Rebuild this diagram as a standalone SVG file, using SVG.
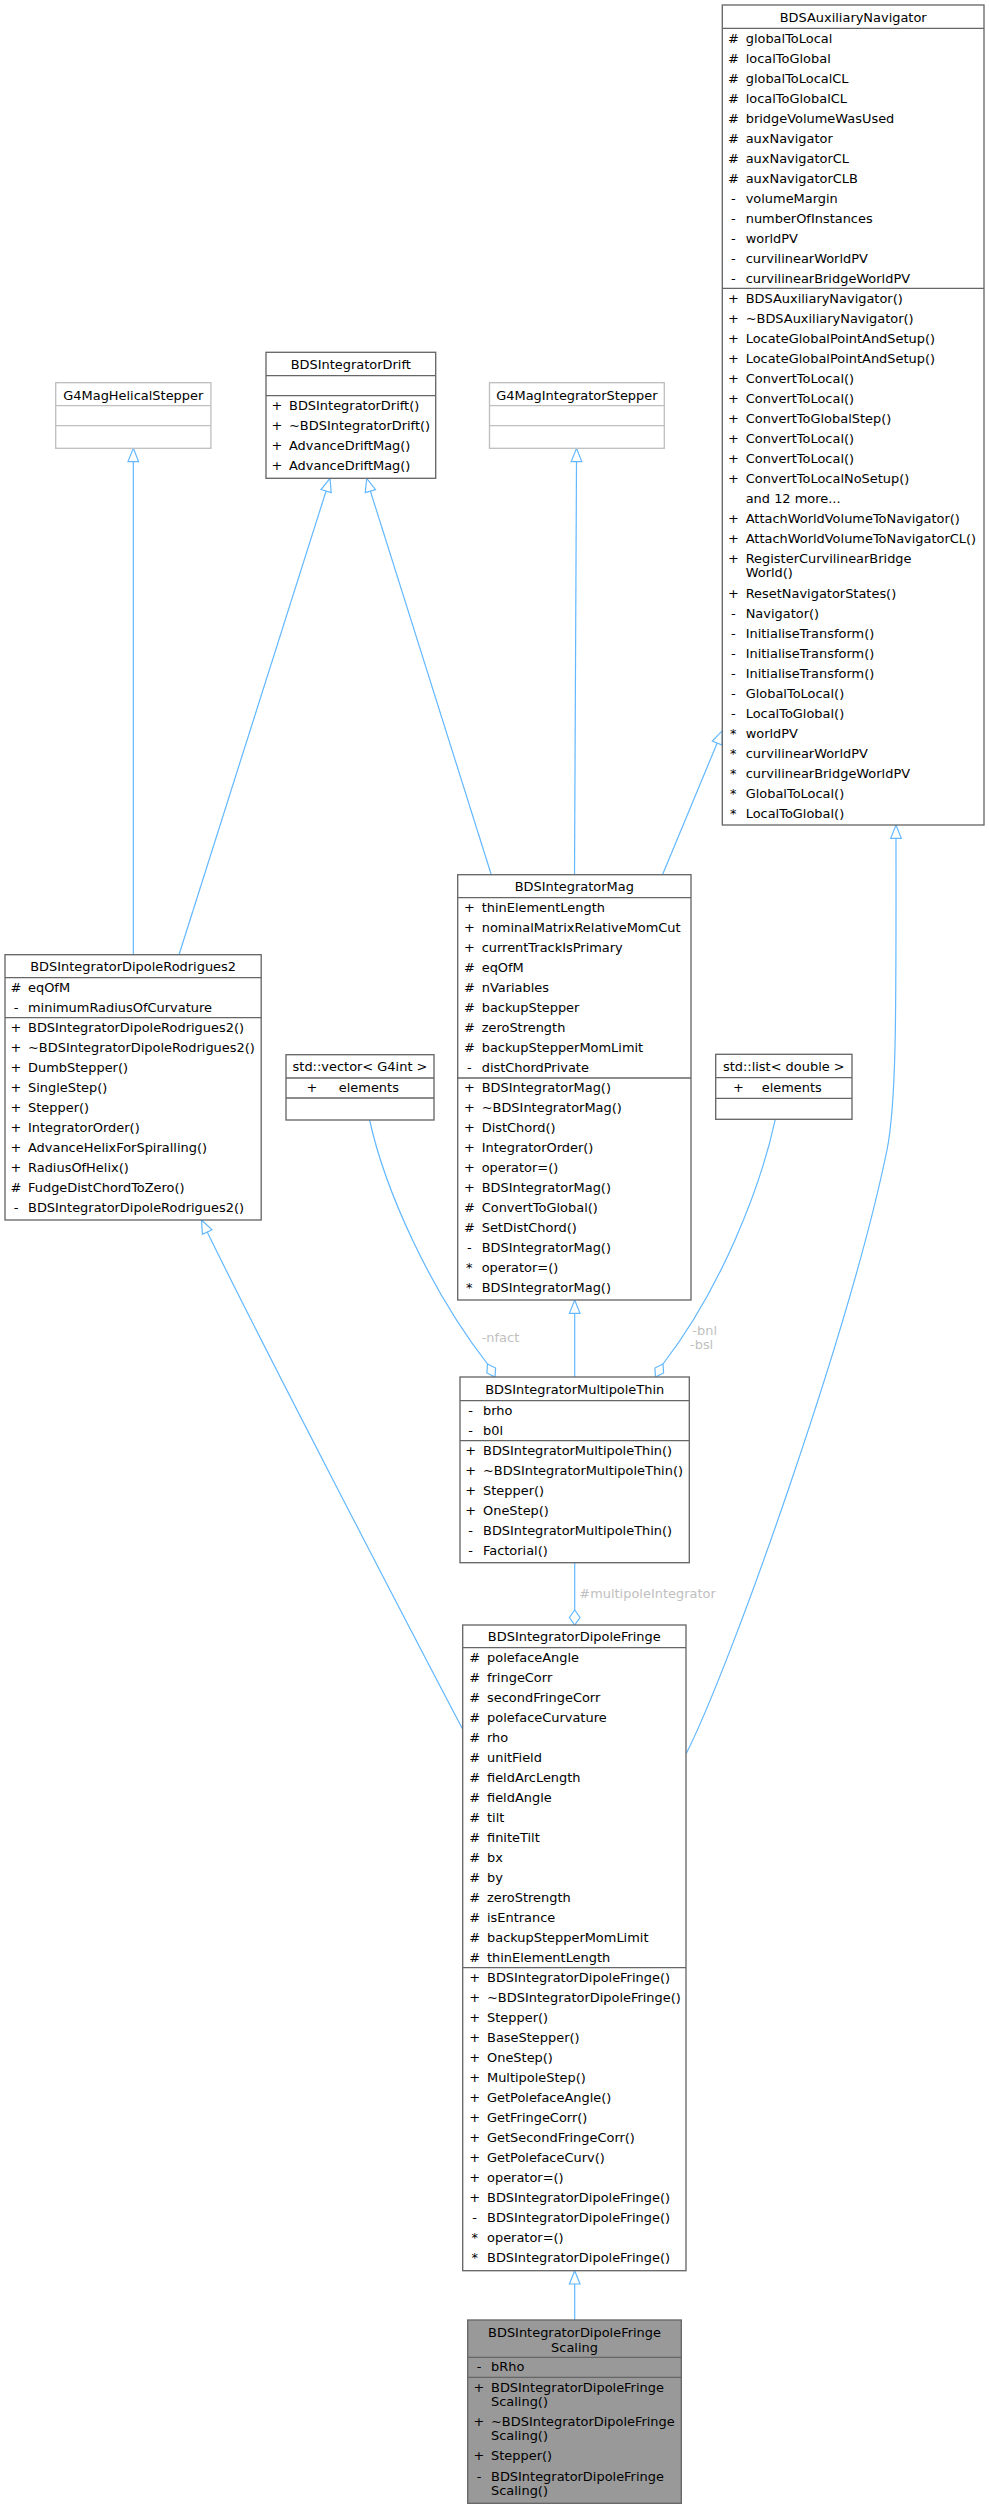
<svg xmlns="http://www.w3.org/2000/svg" width="989" height="2509" viewBox="0 0 989 2509">
<style>
text{font-family:"DejaVu Sans","Liberation Sans",sans-serif;font-size:12.95px;fill:#000}
.c{text-anchor:middle}
.box{fill:#fff;stroke:#666;stroke-width:1.33}
.ext{fill:#fff;stroke:#bfbfbf;stroke-width:1.33}
.cur{fill:#999;stroke:#666;stroke-width:1.33}
.sep{stroke:#666;stroke-width:1.33}
.sepx{stroke:#bfbfbf;stroke-width:1.33}
.e{fill:none;stroke:#63b8ff;stroke-width:1.2}
.ah{fill:#fff;stroke:#63b8ff;stroke-width:1.2}
.lbl{fill:#c0c0c0}
</style>
<rect width="989" height="2509" fill="#fff"/>

<g id="edges">
<path class="e" d="M133.3,954.7 L133.3,461.6"/><polygon class="ah" points="133.3,448.3 138.6,461.6 128,461.6"/>
<path class="e" d="M179,954.7 L326.1,491"/><polygon class="ah" points="330,478.3 331.2,492.6 321,489.5"/>
<path class="e" d="M491.3,874.7 L370.4,491.1"/><polygon class="ah" points="366.7,478.3 375.5,489.6 365.3,492.6"/>
<path class="e" d="M574.5,874.7 L576.5,461.6"/><polygon class="ah" points="576.5,448.3 581.8,461.6 571.2,461.6"/>
<path class="e" d="M662.5,874.7 L717.2,743"/><polygon class="ah" points="722.3,730.7 722.1,745 712.3,741"/>
<path class="e" d="M686,1754 C730,1668 850,1330 887,1150 C897,1100 896,1000 896,838.3"/><polygon class="ah" points="896,825 901.3,838.3 890.7,838.3"/>
<path class="e" d="M462.7,1729.3 C400,1610 260,1340 207.2,1232.1"/><polygon class="ah" points="201.5,1220 212,1229.9 202.4,1234.4"/>
<path class="e" d="M574.7,1377 L574.7,1313.3"/><polygon class="ah" points="574.7,1300 580,1313.3 569.4,1313.3"/>
<path class="e" d="M574.7,2320 L574.7,2284"/><polygon class="ah" points="574.7,2270.7 580,2284 569.4,2284"/>
<path class="e" d="M369.6,1120 C385,1190 430,1290 487.5,1364"/><polygon class="ah" points="487.5,1364 495.6,1368 495,1377 486.9,1373"/>
<path class="e" d="M775.3,1119.3 C760,1190 720,1290 663,1364"/><polygon class="ah" points="663,1364 663.6,1373 655.5,1377 654.9,1368"/>
<path class="e" d="M574.7,1562.7 L574.7,1610"/><polygon class="ah" points="574.7,1610 580,1617.5 574.7,1625 569.4,1617.5"/>
<text class="lbl" x="481.7" y="1342">-nfact</text>
<text class="lbl" x="692.3" y="1334.8">-bnl</text>
<text class="lbl" x="690" y="1349">-bsl</text>
<text class="lbl" x="579.3" y="1597.5">#multipoleIntegrator</text>
</g>

<g id="BDSAuxiliaryNavigator">
<rect class="box" x="722.3" y="5" width="261.7" height="820"/>
<line class="sep" x1="722.3" y1="28.3" x2="984" y2="28.3"/>
<line class="sep" x1="722.3" y1="288.3" x2="984" y2="288.3"/>
<text class="c" x="853.2" y="22">BDSAuxiliaryNavigator</text>
<g class="c">
<text x="733.3" y="42.5">#</text><text x="733.3" y="62.5">#</text><text x="733.3" y="82.5">#</text><text x="733.3" y="102.5">#</text><text x="733.3" y="122.5">#</text><text x="733.3" y="142.5">#</text><text x="733.3" y="162.5">#</text><text x="733.3" y="182.5">#</text>
<text x="733.3" y="202.5">-</text><text x="733.3" y="222.5">-</text><text x="733.3" y="242.5">-</text><text x="733.3" y="262.5">-</text><text x="733.3" y="282.5">-</text>
<text x="733.3" y="302.5">+</text><text x="733.3" y="322.5">+</text><text x="733.3" y="342.5">+</text><text x="733.3" y="362.5">+</text><text x="733.3" y="382.5">+</text><text x="733.3" y="402.5">+</text><text x="733.3" y="422.5">+</text><text x="733.3" y="442.5">+</text><text x="733.3" y="462.5">+</text><text x="733.3" y="482.5">+</text>
<text x="733.3" y="522.5">+</text><text x="733.3" y="542.5">+</text><text x="733.3" y="562.5">+</text><text x="733.3" y="597.5">+</text>
<text x="733.3" y="617.5">-</text><text x="733.3" y="637.5">-</text><text x="733.3" y="657.5">-</text><text x="733.3" y="677.5">-</text><text x="733.3" y="697.5">-</text><text x="733.3" y="717.5">-</text>
<text x="733.3" y="737.5">*</text><text x="733.3" y="757.5">*</text><text x="733.3" y="777.5">*</text><text x="733.3" y="797.5">*</text><text x="733.3" y="817.5">*</text>
</g>
<text x="745.7" y="42.5">globalToLocal</text>
<text x="745.7" y="62.5">localToGlobal</text>
<text x="745.7" y="82.5">globalToLocalCL</text>
<text x="745.7" y="102.5">localToGlobalCL</text>
<text x="745.7" y="122.5">bridgeVolumeWasUsed</text>
<text x="745.7" y="142.5">auxNavigator</text>
<text x="745.7" y="162.5">auxNavigatorCL</text>
<text x="745.7" y="182.5">auxNavigatorCLB</text>
<text x="745.7" y="202.5">volumeMargin</text>
<text x="745.7" y="222.5">numberOfInstances</text>
<text x="745.7" y="242.5">worldPV</text>
<text x="745.7" y="262.5">curvilinearWorldPV</text>
<text x="745.7" y="282.5">curvilinearBridgeWorldPV</text>
<text x="745.7" y="302.5">BDSAuxiliaryNavigator()</text>
<text x="745.7" y="322.5">~BDSAuxiliaryNavigator()</text>
<text x="745.7" y="342.5">LocateGlobalPointAndSetup()</text>
<text x="745.7" y="362.5">LocateGlobalPointAndSetup()</text>
<text x="745.7" y="382.5">ConvertToLocal()</text>
<text x="745.7" y="402.5">ConvertToLocal()</text>
<text x="745.7" y="422.5">ConvertToGlobalStep()</text>
<text x="745.7" y="442.5">ConvertToLocal()</text>
<text x="745.7" y="462.5">ConvertToLocal()</text>
<text x="745.7" y="482.5">ConvertToLocalNoSetup()</text>
<text x="745.7" y="502.5">and 12 more...</text>
<text x="745.7" y="522.5">AttachWorldVolumeToNavigator()</text>
<text x="745.7" y="542.5">AttachWorldVolumeToNavigatorCL()</text>
<text x="745.7" y="562.5">RegisterCurvilinearBridge</text>
<text x="745.7" y="577.2">World()</text>
<text x="745.7" y="597.5">ResetNavigatorStates()</text>
<text x="745.7" y="617.5">Navigator()</text>
<text x="745.7" y="637.5">InitialiseTransform()</text>
<text x="745.7" y="657.5">InitialiseTransform()</text>
<text x="745.7" y="677.5">InitialiseTransform()</text>
<text x="745.7" y="697.5">GlobalToLocal()</text>
<text x="745.7" y="717.5">LocalToGlobal()</text>
<text x="745.7" y="737.5">worldPV</text>
<text x="745.7" y="757.5">curvilinearWorldPV</text>
<text x="745.7" y="777.5">curvilinearBridgeWorldPV</text>
<text x="745.7" y="797.5">GlobalToLocal()</text>
<text x="745.7" y="817.5">LocalToGlobal()</text>
</g>

<g id="BDSIntegratorDrift">
<rect class="box" x="266" y="352.3" width="169.7" height="126"/>
<line class="sep" x1="266" y1="375.7" x2="435.7" y2="375.7"/>
<line class="sep" x1="266" y1="395.7" x2="435.7" y2="395.7"/>
<text class="c" x="350.8" y="368.8">BDSIntegratorDrift</text>
<g class="c"><text x="277" y="409.9">+</text><text x="277" y="429.9">+</text><text x="277" y="449.9">+</text><text x="277" y="469.9">+</text></g>
<text x="289" y="409.9">BDSIntegratorDrift()</text>
<text x="289" y="429.9">~BDSIntegratorDrift()</text>
<text x="289" y="449.9">AdvanceDriftMag()</text>
<text x="289" y="469.9">AdvanceDriftMag()</text>
</g>

<g id="G4MagHelicalStepper">
<rect class="ext" x="55.7" y="382.7" width="155.2" height="65.6"/>
<line class="sepx" x1="55.7" y1="405.7" x2="210.9" y2="405.7"/>
<line class="sepx" x1="55.7" y1="425.7" x2="210.9" y2="425.7"/>
<text class="c" x="133.3" y="399.6">G4MagHelicalStepper</text>
</g>

<g id="G4MagIntegratorStepper">
<rect class="ext" x="489.5" y="382.7" width="174.8" height="65.6"/>
<line class="sepx" x1="489.5" y1="405.7" x2="664.3" y2="405.7"/>
<line class="sepx" x1="489.5" y1="425.7" x2="664.3" y2="425.7"/>
<text class="c" x="576.9" y="399.6">G4MagIntegratorStepper</text>
</g>

<g id="BDSIntegratorDipoleRodrigues2">
<rect class="box" x="5" y="954.7" width="256.2" height="265.3"/>
<line class="sep" x1="5" y1="977.7" x2="261.2" y2="977.7"/>
<line class="sep" x1="5" y1="1017.7" x2="261.2" y2="1017.7"/>
<text class="c" x="133.1" y="971.3">BDSIntegratorDipoleRodrigues2</text>
<g class="c">
<text x="16" y="991.9">#</text><text x="16" y="1011.9">-</text>
<text x="16" y="1031.9">+</text><text x="16" y="1051.9">+</text><text x="16" y="1071.9">+</text><text x="16" y="1091.9">+</text><text x="16" y="1111.9">+</text><text x="16" y="1131.9">+</text><text x="16" y="1151.9">+</text><text x="16" y="1171.9">+</text><text x="16" y="1191.9">#</text><text x="16" y="1211.9">-</text>
</g>
<text x="28" y="991.9">eqOfM</text>
<text x="28" y="1011.9">minimumRadiusOfCurvature</text>
<text x="28" y="1031.9">BDSIntegratorDipoleRodrigues2()</text>
<text x="28" y="1051.9">~BDSIntegratorDipoleRodrigues2()</text>
<text x="28" y="1071.9">DumbStepper()</text>
<text x="28" y="1091.9">SingleStep()</text>
<text x="28" y="1111.9">Stepper()</text>
<text x="28" y="1131.9">IntegratorOrder()</text>
<text x="28" y="1151.9">AdvanceHelixForSpiralling()</text>
<text x="28" y="1171.9">RadiusOfHelix()</text>
<text x="28" y="1191.9">FudgeDistChordToZero()</text>
<text x="28" y="1211.9">BDSIntegratorDipoleRodrigues2()</text>
</g>

<g id="BDSIntegratorMag">
<rect class="box" x="457.7" y="874.7" width="233.3" height="425.3"/>
<line class="sep" x1="457.7" y1="897.7" x2="691" y2="897.7"/>
<line class="sep" x1="457.7" y1="1078" x2="691" y2="1078"/>
<text class="c" x="574.3" y="891.3">BDSIntegratorMag</text>
<g class="c">
<text x="469.3" y="911.9">+</text><text x="469.3" y="931.9">+</text><text x="469.3" y="951.9">+</text><text x="469.3" y="971.9">#</text><text x="469.3" y="991.9">#</text><text x="469.3" y="1011.9">#</text><text x="469.3" y="1031.9">#</text><text x="469.3" y="1051.9">#</text><text x="469.3" y="1071.9">-</text>
<text x="469.3" y="1092.2">+</text><text x="469.3" y="1112.2">+</text><text x="469.3" y="1132.2">+</text><text x="469.3" y="1152.2">+</text><text x="469.3" y="1172.2">+</text><text x="469.3" y="1192.2">+</text><text x="469.3" y="1212.2">#</text><text x="469.3" y="1232.2">#</text><text x="469.3" y="1252.2">-</text><text x="469.3" y="1272.2">*</text><text x="469.3" y="1292.2">*</text>
</g>
<text x="481.7" y="911.9">thinElementLength</text>
<text x="481.7" y="931.9">nominalMatrixRelativeMomCut</text>
<text x="481.7" y="951.9">currentTrackIsPrimary</text>
<text x="481.7" y="971.9">eqOfM</text>
<text x="481.7" y="991.9">nVariables</text>
<text x="481.7" y="1011.9">backupStepper</text>
<text x="481.7" y="1031.9">zeroStrength</text>
<text x="481.7" y="1051.9">backupStepperMomLimit</text>
<text x="481.7" y="1071.9">distChordPrivate</text>
<text x="481.7" y="1092.2">BDSIntegratorMag()</text>
<text x="481.7" y="1112.2">~BDSIntegratorMag()</text>
<text x="481.7" y="1132.2">DistChord()</text>
<text x="481.7" y="1152.2">IntegratorOrder()</text>
<text x="481.7" y="1172.2">operator=()</text>
<text x="481.7" y="1192.2">BDSIntegratorMag()</text>
<text x="481.7" y="1212.2">ConvertToGlobal()</text>
<text x="481.7" y="1232.2">SetDistChord()</text>
<text x="481.7" y="1252.2">BDSIntegratorMag()</text>
<text x="481.7" y="1272.2">operator=()</text>
<text x="481.7" y="1292.2">BDSIntegratorMag()</text>
</g>

<g id="std_vector_G4int">
<rect class="box" x="286" y="1054.7" width="148" height="65.3"/>
<line class="sep" x1="286" y1="1078" x2="434" y2="1078"/>
<line class="sep" x1="286" y1="1098" x2="434" y2="1098"/>
<text class="c" x="360" y="1071.3">std::vector&lt; G4int &gt;</text>
<text class="c" x="311.8" y="1092.2">+</text>
<text x="338.8" y="1092.2">elements</text>
</g>

<g id="std_list_double">
<rect class="box" x="715.7" y="1054.3" width="136.3" height="65"/>
<line class="sep" x1="715.7" y1="1077.7" x2="852" y2="1077.7"/>
<line class="sep" x1="715.7" y1="1098.3" x2="852" y2="1098.3"/>
<text class="c" x="783.8" y="1071">std::list&lt; double &gt;</text>
<text class="c" x="738.3" y="1092">+</text>
<text x="761.7" y="1092">elements</text>
</g>

<g id="BDSIntegratorMultipoleThin">
<rect class="box" x="460" y="1377" width="229.3" height="185.7"/>
<line class="sep" x1="460" y1="1400.7" x2="689.3" y2="1400.7"/>
<line class="sep" x1="460" y1="1440.7" x2="689.3" y2="1440.7"/>
<text class="c" x="574.7" y="1393.9">BDSIntegratorMultipoleThin</text>
<g class="c">
<text x="470.7" y="1414.9">-</text><text x="470.7" y="1434.9">-</text>
<text x="470.7" y="1454.9">+</text><text x="470.7" y="1474.9">+</text><text x="470.7" y="1494.9">+</text><text x="470.7" y="1514.9">+</text><text x="470.7" y="1534.9">-</text><text x="470.7" y="1554.9">-</text>
</g>
<text x="483" y="1414.9">brho</text>
<text x="483" y="1434.9">b0l</text>
<text x="483" y="1454.9">BDSIntegratorMultipoleThin()</text>
<text x="483" y="1474.9">~BDSIntegratorMultipoleThin()</text>
<text x="483" y="1494.9">Stepper()</text>
<text x="483" y="1514.9">OneStep()</text>
<text x="483" y="1534.9">BDSIntegratorMultipoleThin()</text>
<text x="483" y="1554.9">Factorial()</text>
</g>

<g id="BDSIntegratorDipoleFringe">
<rect class="box" x="462.7" y="1625" width="223.3" height="645.7"/>
<line class="sep" x1="462.7" y1="1647.7" x2="686" y2="1647.7"/>
<line class="sep" x1="462.7" y1="1967.7" x2="686" y2="1967.7"/>
<text class="c" x="574.3" y="1641.3">BDSIntegratorDipoleFringe</text>
<g class="c">
<text x="474.7" y="1661.9">#</text><text x="474.7" y="1681.9">#</text><text x="474.7" y="1701.9">#</text><text x="474.7" y="1721.9">#</text><text x="474.7" y="1741.9">#</text><text x="474.7" y="1761.9">#</text><text x="474.7" y="1781.9">#</text><text x="474.7" y="1801.9">#</text><text x="474.7" y="1821.9">#</text><text x="474.7" y="1841.9">#</text><text x="474.7" y="1861.9">#</text><text x="474.7" y="1881.9">#</text><text x="474.7" y="1901.9">#</text><text x="474.7" y="1921.9">#</text><text x="474.7" y="1941.9">#</text><text x="474.7" y="1961.9">#</text>
<text x="474.7" y="1981.9">+</text><text x="474.7" y="2001.9">+</text><text x="474.7" y="2021.9">+</text><text x="474.7" y="2041.9">+</text><text x="474.7" y="2061.9">+</text><text x="474.7" y="2081.9">+</text><text x="474.7" y="2101.9">+</text><text x="474.7" y="2121.9">+</text><text x="474.7" y="2141.9">+</text><text x="474.7" y="2161.9">+</text><text x="474.7" y="2181.9">+</text><text x="474.7" y="2201.9">+</text><text x="474.7" y="2221.9">-</text><text x="474.7" y="2241.9">*</text><text x="474.7" y="2261.9">*</text>
</g>
<text x="487" y="1661.9">polefaceAngle</text>
<text x="487" y="1681.9">fringeCorr</text>
<text x="487" y="1701.9">secondFringeCorr</text>
<text x="487" y="1721.9">polefaceCurvature</text>
<text x="487" y="1741.9">rho</text>
<text x="487" y="1761.9">unitField</text>
<text x="487" y="1781.9">fieldArcLength</text>
<text x="487" y="1801.9">fieldAngle</text>
<text x="487" y="1821.9">tilt</text>
<text x="487" y="1841.9">finiteTilt</text>
<text x="487" y="1861.9">bx</text>
<text x="487" y="1881.9">by</text>
<text x="487" y="1901.9">zeroStrength</text>
<text x="487" y="1921.9">isEntrance</text>
<text x="487" y="1941.9">backupStepperMomLimit</text>
<text x="487" y="1961.9">thinElementLength</text>
<text x="487" y="1981.9">BDSIntegratorDipoleFringe()</text>
<text x="487" y="2001.9">~BDSIntegratorDipoleFringe()</text>
<text x="487" y="2021.9">Stepper()</text>
<text x="487" y="2041.9">BaseStepper()</text>
<text x="487" y="2061.9">OneStep()</text>
<text x="487" y="2081.9">MultipoleStep()</text>
<text x="487" y="2101.9">GetPolefaceAngle()</text>
<text x="487" y="2121.9">GetFringeCorr()</text>
<text x="487" y="2141.9">GetSecondFringeCorr()</text>
<text x="487" y="2161.9">GetPolefaceCurv()</text>
<text x="487" y="2181.9">operator=()</text>
<text x="487" y="2201.9">BDSIntegratorDipoleFringe()</text>
<text x="487" y="2221.9">BDSIntegratorDipoleFringe()</text>
<text x="487" y="2241.9">operator=()</text>
<text x="487" y="2261.9">BDSIntegratorDipoleFringe()</text>
</g>

<g id="BDSIntegratorDipoleFringeScaling">
<rect class="cur" x="467.7" y="2320" width="213.6" height="183.3"/>
<line class="sep" x1="467.7" y1="2357.3" x2="681.3" y2="2357.3"/>
<line class="sep" x1="467.7" y1="2377.3" x2="681.3" y2="2377.3"/>
<text class="c" x="574.5" y="2336.5">BDSIntegratorDipoleFringe</text>
<text class="c" x="574.5" y="2351.5">Scaling</text>
<g class="c">
<text x="479" y="2370.8">-</text>
<text x="479" y="2391.5">+</text><text x="479" y="2425.5">+</text><text x="479" y="2460.1">+</text><text x="479" y="2480.5">-</text>
</g>
<text x="491" y="2370.8">bRho</text>
<text x="491" y="2391.5">BDSIntegratorDipoleFringe</text>
<text x="491" y="2405.7">Scaling()</text>
<text x="491" y="2425.5">~BDSIntegratorDipoleFringe</text>
<text x="491" y="2440.1">Scaling()</text>
<text x="491" y="2460.1">Stepper()</text>
<text x="491" y="2480.5">BDSIntegratorDipoleFringe</text>
<text x="491" y="2494.8">Scaling()</text>
</g>
</svg>
